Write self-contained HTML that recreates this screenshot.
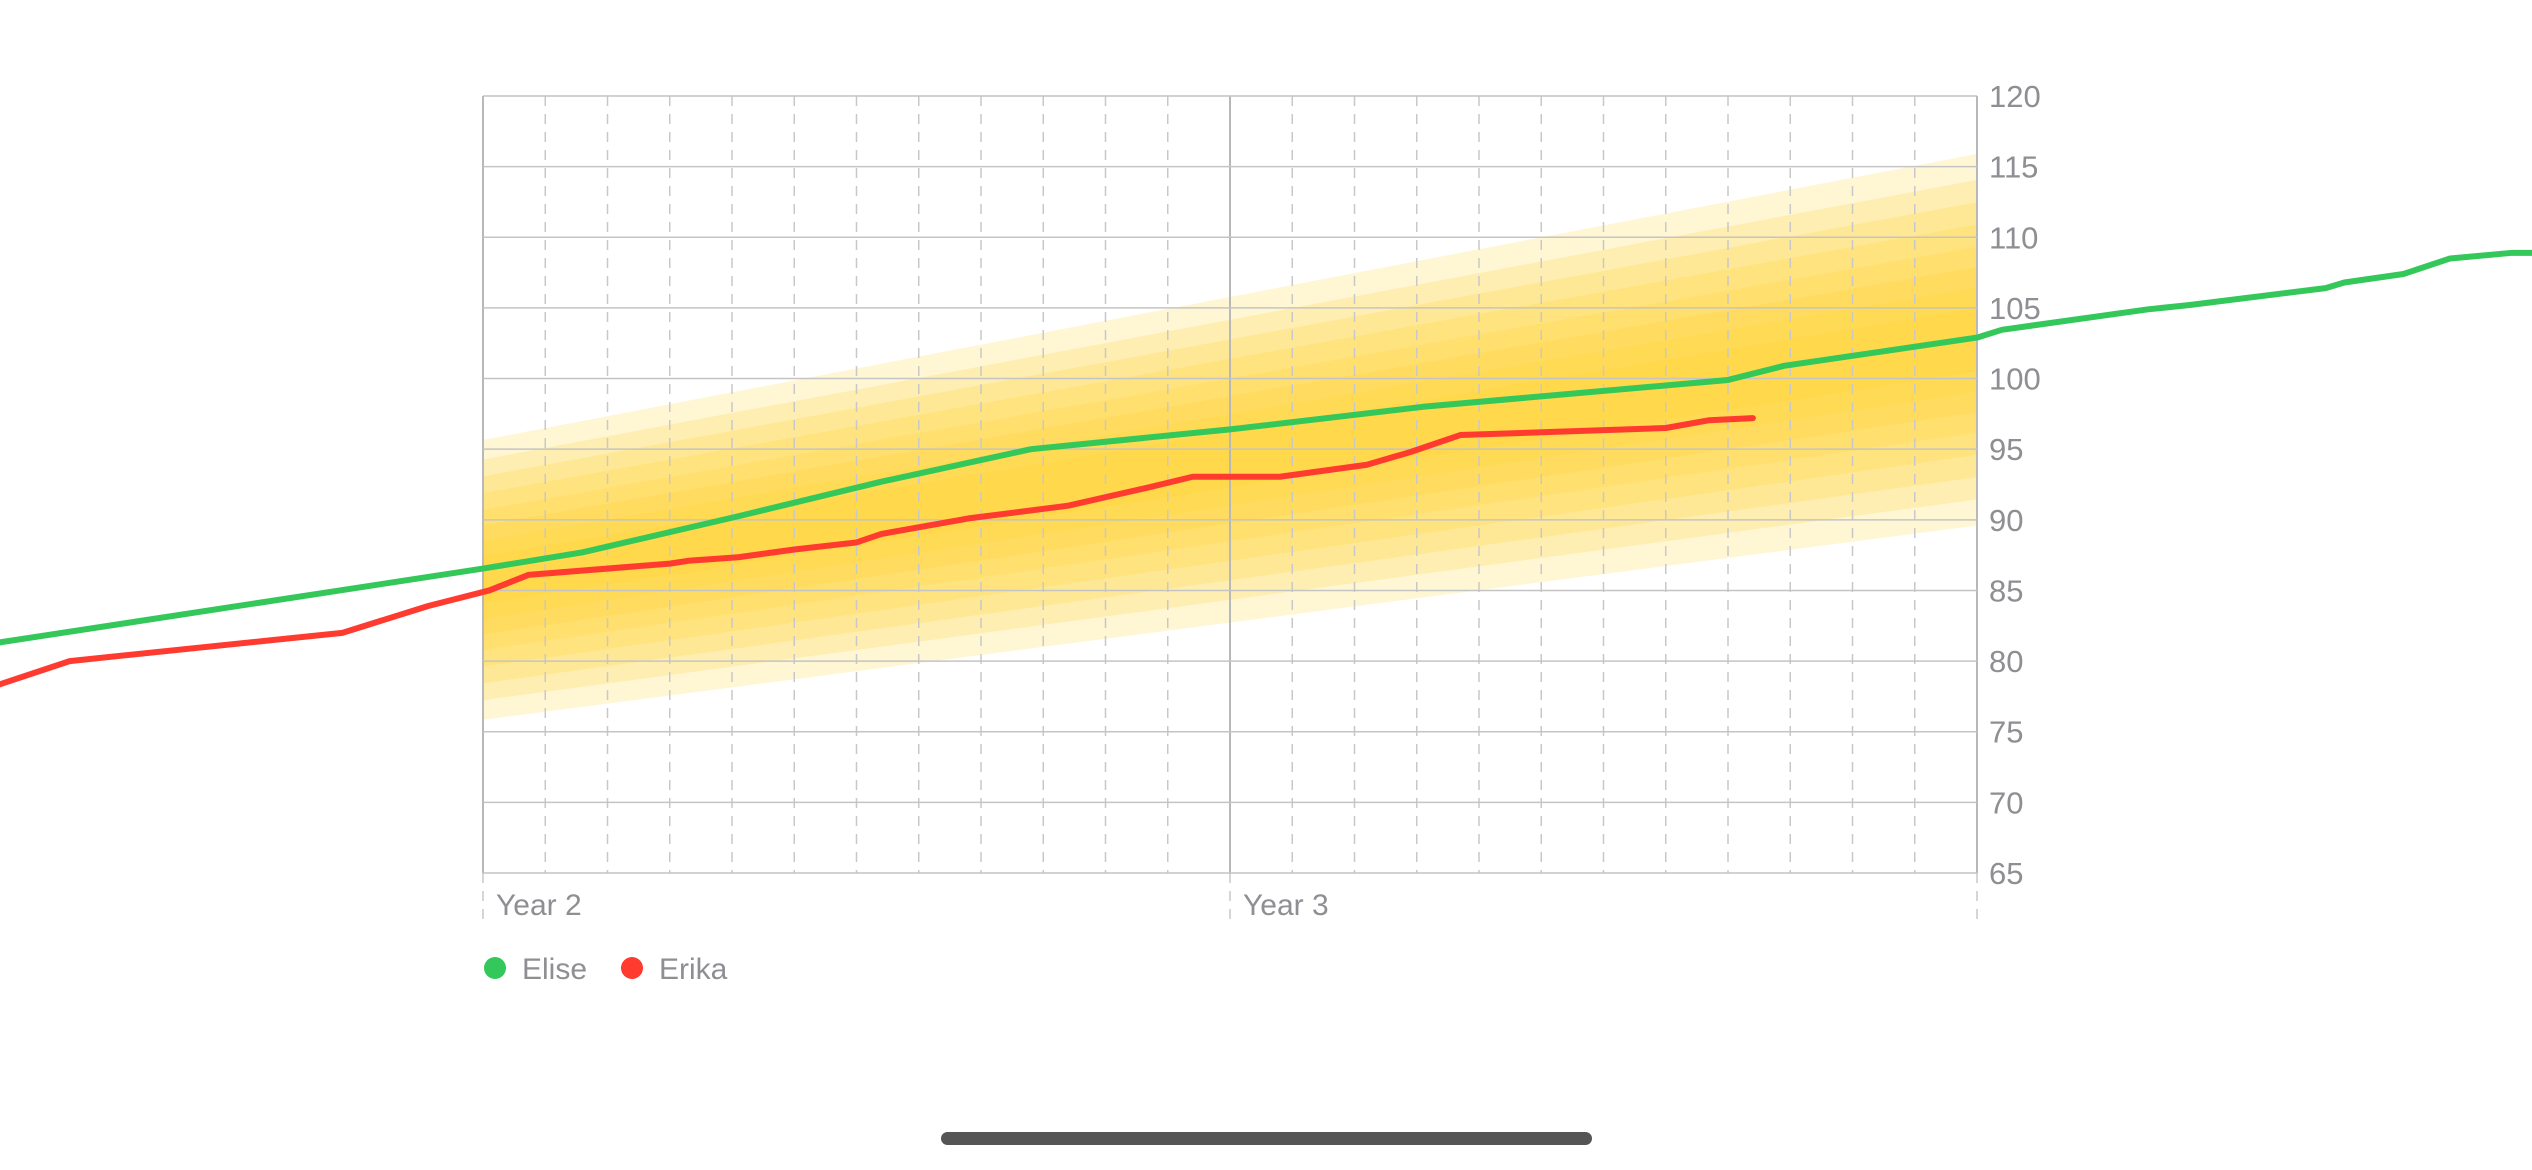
<!DOCTYPE html>
<html><head><meta charset="utf-8"><style>
html,body{margin:0;padding:0;background:#fff;width:2532px;height:1170px;overflow:hidden}
svg{display:block;font-family:"Liberation Sans",sans-serif}
</style></head><body>
<svg id="chart" width="2532" height="1170" viewBox="0 0 2532 1170" xmlns="http://www.w3.org/2000/svg">
<g id="bands"></g>
<g id="grid"></g>
<g id="yaxis"></g>
<g id="xaxis"></g>
<g id="series"></g>
<g>
 <circle cx="495" cy="968" r="11" fill="#34c759"/>
 <text x="522" y="979" font-size="30" fill="#8e8e93">Elise</text>
 <circle cx="632" cy="968" r="11" fill="#ff3b30"/>
 <text x="659" y="979" font-size="30" fill="#8e8e93">Erika</text>
</g>
<rect x="941" y="1132" width="651" height="13" rx="6.5" fill="#555"/>
</svg>
<script>
// months since start of Year 2
const eliseMonths = [-7.8,0,1.6,4.05,6.4,8.8,12,15.1,20,20.9,24,24.4,26.75,27.4,29.6,29.9,30.85,31.6,32.6,33.2];
const eliseValues = [81.3,86.55,87.7,90.2,92.7,95.0,96.4,98.0,99.9,100.9,102.9,103.45,104.9,105.2,106.4,106.8,107.4,108.5,108.9,108.9];
const erikaMonths = [-7.8,-6.64,-2.26,-0.88,0.1,0.73,3.0,3.3,4.1,5.0,6.0,6.4,7.8,9.4,10.7,11.4,12.8,14.2,14.9,15.7,19.0,19.7,20.4];
const erikaValues = [78.3,80.0,82.0,83.9,85.0,86.1,86.9,87.1,87.35,87.9,88.4,89.0,90.1,91.0,92.3,93.05,93.05,93.9,94.8,96.0,96.5,97.05,97.2];
const bandMonths = [0,24];
const bandMedian = [85.75,102.75];
const bandHalfWidth = [9.9,13.15];
const bandLevels = [1,0.86,0.74,0.62,0.5,0.39,0.28,0.17];
const yTicks = [65,70,75,80,85,90,95,100,105,110,115,120];
const xLabels = ["Year 2","Year 3"];

const NS="http://www.w3.org/2000/svg";
const L=483,R=1977,T=96,B=873,M0=0,M1=24,V0=65,V1=120;
const x=m=>L+(m-M0)*(R-L)/(M1-M0);
const y=v=>B-(v-V0)*(B-T)/(V1-V0);
function mk(tag,parent,attrs){const e=document.createElementNS(NS,tag);for(const k in attrs)e.setAttribute(k,attrs[k]);parent.appendChild(e);return e;}

const bands=document.getElementById('bands');
bandLevels.forEach((f,i)=>{
  const up=bandMonths.map((m,j)=>x(m)+','+y(bandMedian[j]+f*bandHalfWidth[j]));
  const lo=bandMonths.map((m,j)=>x(m)+','+y(bandMedian[j]-f*bandHalfWidth[j])).reverse();
  const p=mk('polygon',bands,{points:up.concat(lo).join(' '),fill:'#ffd02a','fill-opacity':0.2});
  
  
});

const grid=document.getElementById('grid');
for(let m=0;m<=24;m++){
  const solid=(m%12===0);
  const ln=mk('line',grid,{x1:x(m),x2:x(m),y1:T,y2:solid?925:B,stroke:solid?'#b8b8b8':'#c8c8c8','stroke-width':solid?2:1.5,'stroke-dasharray':solid?'none':'10,8'});
  
  
  if(solid){
    const d=mk('line',grid,{x1:x(m),x2:x(m),y1:B,y2:925,stroke:'#fff','stroke-width':2});
    
    
    const t=mk('line',grid,{x1:x(m),x2:x(m),y1:B,y2:925,stroke:'#c8c8c8','stroke-width':1.5,'stroke-dasharray':'10,8'});
    
    
  }
}
const yax=document.getElementById('yaxis');
yTicks.forEach(v=>{
  const ln=mk('line',grid,{x1:L,x2:R,y1:y(v),y2:y(v),stroke:'#c4c4c4','stroke-width':1.5});
  
  
  const t=mk('text',yax,{x:1989,y:y(v)+11,'font-size':31,fill:'#8e8e93'});
  t.textContent=v;
  
  
});
const xax=document.getElementById('xaxis');
xLabels.forEach((s,i)=>{
  const t=mk('text',xax,{x:x(i*12)+13,y:915,'font-size':30,fill:'#8e8e93'});
  t.textContent=s;
  
  
});

const ser=document.getElementById('series');
function line(ms,vs,color,name){
  const p=mk('polyline',ser,{points:ms.map((m,i)=>x(m)+','+y(vs[i])).join(' '),fill:'none',stroke:color,'stroke-width':6,'stroke-linejoin':'round','stroke-linecap':'round'});
  
  
}
line(eliseMonths,eliseValues,'#34c759','line-elise');
line(erikaMonths,erikaValues,'#ff3b30','line-erika');
</script>
</body></html>
